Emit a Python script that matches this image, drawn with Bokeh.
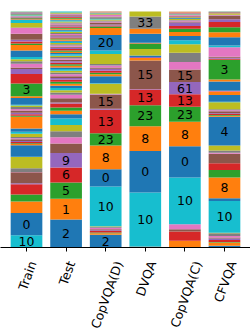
import numpy as np
from bokeh.plotting import figure
from bokeh.models import ColumnDataSource, Range1d, FixedTicker, LinearAxis
from bokeh.core.properties import value
from bokeh.palettes import Category10_10
from bokeh.embed import file_html
from bokeh.resources import INLINE

# ---- data: answer-class shares per split, stacked in a fixed class order ----
splits = ["Train", "Test", "CopVQA(D)", "DVQA", "CopVQA(C)", "CFVQA"]

train = [0, 0, 0, 0, 0, 0, 0, 0, 0, 12.0,
         21.7, 11.2, 6.7, 10.0, 1.0, 10.7, 0.3, 3.7, 11.0, 0.3,
         11.2, 1.0, 0.8, 1.2, 1.0, 1.8, 1.0, 1.2, 3.0, 2.0,
         3.3, 11.4, 1.0, 1.5, 1.5, 2.0, 1.5, 2.0, 1.5, 0.6,
         6.7, 1.7, 12.3, 9.3, 5.0, 1.5, 3.5, 2.5, 2.0, 2.2,
         6.3, 5.4, 1.5, 1.8, 1.7, 6.0, 5.6, 0.5, 4.2, 3.0,
         0.6, 0.5, 0.5, 0.6, 0.5, 0.4, 0.5, 0.4, 0.4, 0.5,
         0.4, 0.4, 0.4, 0.3, 0.4, 0.3, 0.3, 0.3, 0.3, 0.3]

test = [27.7, 20.6, 16.0, 15.0, 14.3, 9.3, 6.3, 6.0, 6.0, 6.5,
        4.3, 3.3, 3.4, 4.0, 1.0, 4.0, 3.5, 2.4, 2.2, 2.2,
        2.1, 2.0, 2.0, 1.9, 1.9, 1.8, 1.8, 1.8, 1.7, 1.7,
        1.6, 1.6, 1.5, 1.5, 1.5, 1.4, 1.4, 1.4, 1.4, 1.3,
        1.3, 1.3, 1.3, 1.3, 1.2, 1.2, 1.2, 1.2, 1.2, 1.2,
        1.1, 1.1, 1.0, 1.1, 1.1, 1.1, 1.2, 1.1, 1.1, 1.1,
        1.0, 1.0, 1.0, 1.1, 1.0, 1.0, 0.9, 1.0, 1.0, 1.0,
        0.9, 0.9, 0.9, 0.9, 0.8, 0.9, 0.9, 0.9, 0.9, 1.0]

copvqa_d = [12.7, 1.5, 0.8, 1.5, 0.8, 1.0, 1.5, 1.0, 0.5, 39.7,
            17.3, 23.7, 12.3, 23.4, 1.0, 14.0, 0.5, 0.5, 10.0, 0.5,
            7.0, 2.0, 1.5, 2.0, 2.0, 1.2, 2.2, 1.5, 10.0, 3.3,
            15.7, 7.0, 1.5, 1.0, 1.0, 1.8, 1.0, 1.2, 0.8, 0.5,
            0.8, 0.4, 0.3, 0.3, 0.5, 0.3, 1.5, 0.5, 1.0, 0.2,
            0.2, 0.1, 0.1, 0.2, 0.1, 0.1, 0.2, 0.1, 0.1, 0.1,
            0.1, 0.1, 0, 0.1, 0, 0.1, 0, 0, 0.1, 0,
            0, 0, 0, 0, 0, 0, 0, 0, 0, 0]

dvqa = [0, 0, 0.4, 0, 0, 0, 0, 0.6, 0, 54.0,
        41.3, 24.7, 21.0, 15.7, 0.5, 28.3, 0, 0, 0, 0,
        0, 2.5, 0, 0, 1.0, 0, 0, 0, 0, 0,
        1.5, 0, 0, 0, 0, 0, 0, 0, 6.7, 0,
        0, 0, 5.0, 0.5, 0, 0, 0, 0, 0.5, 0,
        9.0, 5.0, 0, 0, 0, 0, 0, 12.3, 5.0, 0,
        0, 0, 0, 0, 0, 0, 0, 0, 0, 0,
        0, 0, 0, 0, 0, 0, 0, 0, 0, 0]

copvqa_c = [0, 6.7, 0, 9.3, 0, 2.3, 5.0, 0, 0, 46.7,
            31.0, 24.5, 15.0, 12.5, 12.3, 12.5, 7.4, 9.3, 8.3, 4.0,
            4.4, 4.0, 3.3, 2.7, 3.3, 1.0, 1.0, 0.5, 1.0, 0.3,
            1.0, 0.6, 0.4, 0.5, 0.5, 0.4, 0.3, 0.5, 0.3, 0.2,
            0.3, 0.2, 0.2, 0.1, 0.2, 0.1, 0.2, 0.1, 0.1, 0.1,
            0.1, 0.1, 0.1, 0.1, 0.1, 0.1, 0.1, 0.1, 0.1, 0.1,
            0, 0, 0, 0, 0, 0, 0, 0, 0, 0,
            0, 0, 0, 0, 0, 0, 0, 0, 0, 0]

cfvqa = [1.7, 3.3, 0.5, 2.0, 1.5, 1.0, 1.5, 2.5, 0.5, 31.7,
         2.7, 20.6, 7.4, 6.6, 0, 9.4, 1.0, 2.3, 5.0, 0,
         28.3, 1.0, 0.8, 1.0, 0.8, 2.0, 1.0, 0.8, 7.0, 0.5,
         6.7, 3.3, 0, 0.5, 0, 0, 0.5, 0, 0, 0,
         9.0, 2.0, 19.7, 1.0, 1.0, 1.0, 9.3, 0, 0, 1.7,
         8.3, 5.0, 5.0, 5.0, 2.7, 3.3, 0.8, 0.5, 0.6, 0.4,
         0.3, 0.4, 0.3, 0.2, 0.2, 0.2, 0.1, 0.1, 0.1, 0.1,
         0.1, 0.1, 0, 0, 0, 0, 0, 0, 0, 0]

shares = [train, test, copvqa_d, dvqa, copvqa_c, cfvqa]

# answer-class ids shown on large segments (stack position -> class id)
label_positions = [0, 1, 2, 3, 4, 9, 10, 11, 12, 13, 14, 15, 20, 30, 42, 57]
label_ids = [2, 1, 5, 6, 9, 10, 0, 8, 23, 13, 61, 15, 4, 20, 3, 33]
label_min_share = 0.05

FONT = "DejaVu Sans"
FS_SEG = "12.5px"
FS_TICK = 12.5
PX_PER_UNIT = 39.6

p = figure(width=250, height=331, frame_width=250, frame_height=247,
           output_backend="svg", toolbar_location=None,
           x_range=Range1d(-0.6566, 5.657), y_range=Range1d(0, 1.0466),
           y_axis_location=None, min_border_left=0, min_border_right=0,
           min_border_top=0, min_border_bottom=84)
p.outline_line_color = None
p.xgrid.visible = False
p.ygrid.visible = False
p.background_fill_color = "white"
p.border_fill_color = "white"

id_of = dict(zip(label_positions, label_ids))
xs, bottoms, tops, colors = [], [], [], []
lx, ly, lt = [], [], []
for i, vals in enumerate(shares):
    v = np.array(vals, dtype=float)
    v = v / v.sum()
    cum = np.concatenate([[0.0], np.cumsum(v)])
    for k in range(len(v)):
        if v[k] <= 0:
            continue
        xs.append(i)
        bottoms.append(cum[k])
        tops.append(cum[k + 1])
        colors.append(Category10_10[k % 10])
        if v[k] >= label_min_share and k in id_of:
            lx.append(i)
            ly.append((cum[k] + cum[k + 1]) / 2)
            lt.append(str(id_of[k]))

src = ColumnDataSource(dict(x=xs, bottom=bottoms, top=tops, color=colors))
p.vbar(x="x", bottom="bottom", top="top", width=0.8, fill_color="color",
       line_color=None, source=src)

p.text(x=lx, y=ly, text=lt, text_align="center", text_baseline="middle",
       text_font=value(FONT), text_font_size=FS_SEG, text_color="black")

# axis with line and tick marks at the bar centres
ax = p.xaxis[0]
ax.ticker = FixedTicker(ticks=list(range(len(splits))))
ax.major_label_overrides = {i: "" for i in range(len(splits))}
ax.major_label_standoff = 0
ax.axis_line_color = "black"
ax.axis_line_width = 1
ax.major_tick_line_color = "black"
ax.major_tick_out = 4
ax.major_tick_in = 0
ax.minor_tick_line_color = None

# second axis carrying the rotated names, each anchored so that the rotated
# text is centred under its tick (as in the reference)
CHAR_W = {"T": .611, "r": .411, "a": .613, "i": .278, "n": .634, "e": .615,
          "s": .521, "t": .392, "C": .698, "o": .612, "p": .635, "V": .684,
          "Q": .787, "A": .684, "(": .390, "D": .770, ")": .390, "F": .575}
ang = np.deg2rad(70)
name_ticks = []
for i, name in enumerate(splits):
    w = FS_TICK * sum(CHAR_W.get(c, 0.6) for c in name)
    name_ticks.append(round(i + 0.55 * w * np.cos(ang) / PX_PER_UNIT, 4))

ax2 = LinearAxis(ticker=FixedTicker(ticks=name_ticks),
                 major_label_overrides={t: n for t, n in zip(name_ticks, splits)},
                 major_label_orientation=float(ang),
                 major_label_standoff=4,
                 major_label_text_font=FONT,
                 major_label_text_font_size=f"{FS_TICK:g}px",
                 major_label_text_color="black",
                 axis_line_color=None, major_tick_line_color=None,
                 minor_tick_line_color=None)
p.add_layout(ax2, "below")

open("out.html", "w").write(file_html(p, INLINE))
